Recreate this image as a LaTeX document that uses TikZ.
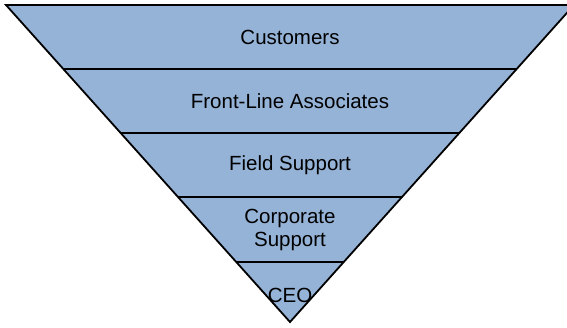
\documentclass[tikz,border=0pt]{standalone}
\usepackage{fontspec}
\setmainfont{Liberation Sans}
\usetikzlibrary{calc}
\definecolor{tierc}{RGB}{149,179,215}
\tikzset{
  tier/.style={draw=black, line width=1.8pt, fill=tierc, line join=miter},
  divider/.style={draw=black, line width=1.8pt},
  tierlabel/.style={align=center, font=\fontsize{20.5}{23}\selectfont, inner sep=0pt}
}

\begin{document}
\begin{tikzpicture}[x=1pt, y=-1pt]
  \clip[use as bounding box] (0,0) rectangle (567,327);

  \coordinate (tl) at (6,5);
  \coordinate (tr) at (574,5);
  \coordinate (apex) at (290,322);
  \path[tier] (tl) -- (tr) -- (apex) -- cycle;

  % level separators
  \foreach \f [count=\i] in {0.2019,0.4038,0.6057,0.8107}{
    \coordinate (l\i) at ($(tl)!\f!(apex)$);
    \coordinate (r\i) at ($(tr)!\f!(apex)$);
    \draw[divider] (l\i) -- (r\i);
  }

  \node[tierlabel] (cust) at (290,37) {Customers};
  \node[tierlabel] (front) at (290,101) {Front-Line Associates};
  \node[tierlabel] (field) at (290,165) {Field Support};
  \node[tierlabel] (corp) at (290,229.5) {Corporate\\Support};
  \node[tierlabel] (ceo) at (290,295) {CEO};
\end{tikzpicture}
\end{document}
